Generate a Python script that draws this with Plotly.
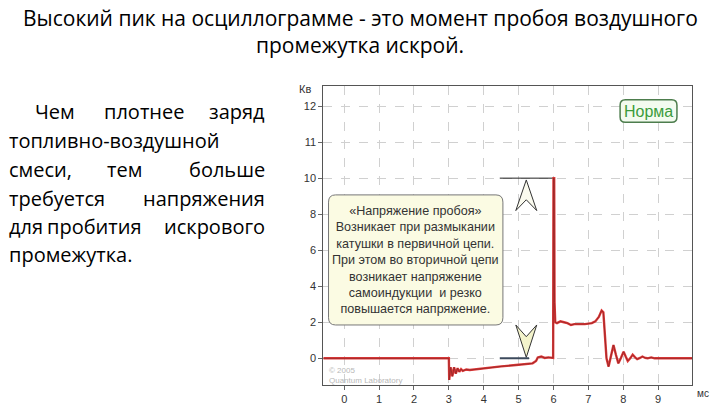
import plotly.graph_objects as go

# ---- data ----
time_ms = [-0.6, 3.0, 3.01, 3.05, 3.1, 3.15, 3.2, 3.25, 3.3, 3.35, 3.4, 3.5, 3.6,
           4.0, 4.5, 5.0, 5.4, 5.5, 5.55, 5.65, 5.75, 5.85, 5.99, 6.0, 6.02, 6.03,
           6.05, 6.1, 6.2, 6.3, 6.4, 6.5, 6.6, 6.7, 6.9, 7.1, 7.2, 7.3, 7.38, 7.43,
           7.47, 7.52, 7.58, 7.65, 7.72, 7.79, 7.86, 7.93, 8.01, 8.07, 8.13, 8.2,
           8.27, 8.34, 8.4, 8.48, 8.55, 8.63, 8.7, 8.8, 8.9, 9.0, 10.0]
voltage_kv = [0.0, 0.0, -1.2, -0.5, -1.0, -0.5, -0.85, -0.55, -0.75, -0.6, -0.7, -0.62, -0.65,
              -0.55, -0.45, -0.36, -0.28, -0.15, 0.05, 0.1, 0.02, 0.05, 0.02, 10.0, 10.0, 3.1,
              2.0, 1.95, 2.05, 2.0, 1.95, 1.85, 1.9, 1.9, 1.9, 1.95, 2.05, 2.3, 2.65, 2.55,
              1.5, 0.0, -0.46, 0.1, 0.74, 0.2, -0.28, 0.0, 0.37, 0.1, -0.15, 0.0,
              0.2, 0.05, -0.05, 0.02, 0.1, 0.02, 0.0, 0.05, 0.0, 0.0, 0.0]

x_ticks = [0, 1, 2, 3, 4, 5, 6, 7, 8, 9]
y_tick_pos = [0, 2, 4, 6, 8, 10, 12, 14]
y_tick_labels = ["0", "2", "4", "6", "8", "10", "11", "12"]

# guide marks for the breakdown voltage
peak_line_x = [4.46, 6.0]
peak_line_y = [10.0, 10.0]
base_line_x = [4.46, 5.3]
base_line_y = [0.0, 0.0]
arrow_up_x = [5.22, 4.92, 5.22, 5.52, 5.22]
arrow_up_y = [9.9, 8.2, 8.8, 8.2, 9.9]
arrow_dn_x = [5.22, 4.92, 5.22, 5.52, 5.22]
arrow_dn_y = [0.05, 1.85, 1.2, 1.85, 0.05]

X_RANGE = [-0.6, 9.98]
Y_RANGE = [-1.47, 15.1]

fig = go.Figure()

# guide lines and arrows
fig.add_trace(go.Scatter(x=arrow_up_x, y=arrow_up_y, mode="lines", fill="toself",
                         fillcolor="rgba(248,248,228,0.6)", line=dict(color="#333", width=1),
                         hoverinfo="skip", showlegend=False))
fig.add_trace(go.Scatter(x=arrow_dn_x, y=arrow_dn_y, mode="lines", fill="toself",
                         fillcolor="rgba(240,240,190,0.8)", line=dict(color="#333", width=1),
                         hoverinfo="skip", showlegend=False))
fig.add_trace(go.Scatter(x=peak_line_x, y=peak_line_y, mode="lines",
                         line=dict(color="#222", width=1), hoverinfo="skip", showlegend=False))
fig.add_trace(go.Scatter(x=base_line_x, y=base_line_y, mode="lines",
                         line=dict(color="#3c4a5c", width=2), hoverinfo="skip", showlegend=False))

# waveform: red halo + dark core
fig.add_trace(go.Scatter(x=time_ms, y=voltage_kv, mode="lines",
                         line=dict(color="#e23a3a", width=2.4),
                         hoverinfo="skip", showlegend=False))
fig.add_trace(go.Scatter(x=time_ms, y=voltage_kv, mode="lines",
                         line=dict(color="#962828", width=0.9),
                         showlegend=False))


def rounded_rect(x0, x1, y0, y1, rx, ry):
    return (f"M {x0+rx},{y0} L {x1-rx},{y0} Q {x1},{y0} {x1},{y0+ry} "
            f"L {x1},{y1-ry} Q {x1},{y1} {x1-rx},{y1} L {x0+rx},{y1} "
            f"Q {x0},{y1} {x0},{y1-ry} L {x0},{y0+ry} Q {x0},{y0} {x0+rx},{y0} Z")


shapes = [
    dict(type="path", xref="x", yref="y",
         path=rounded_rect(-0.45, 4.55, 1.85, 9.07, 0.2, 0.4),
         fillcolor="#fbfbe3", line=dict(color="#777", width=1), layer="above"),
    dict(type="path", xref="x", yref="y",
         path=rounded_rect(7.91, 9.54, 13.1, 14.35, 0.15, 0.3),
         fillcolor="#f3fbef", line=dict(color="#4d7d4d", width=1.5), layer="above"),
]

annotations = [
    dict(x=2.05, y=5.45, xref="x", yref="y", showarrow=False, xanchor="center", yanchor="middle",
         text=("«Напряжение пробоя»<br>Возникает при размыкании<br>катушки в первичной цепи.<br>"
               "При этом во вторичной цепи<br>возникает напряжение<br>самоиндукции  и резко<br>"
               "повышается напряжение."),
         font=dict(family="Liberation Sans, Arial", size=12.6, color="#333"), align="center"),
    dict(x=8.725, y=13.72, xref="x", yref="y", showarrow=False, xanchor="center", yanchor="middle",
         text="Норма", font=dict(family="Liberation Sans, Arial", size=16, color="#3c9c3c")),
    dict(x=-0.5, y=-0.3, xref="x", yref="y", showarrow=False, xanchor="left", yanchor="top",
         text="© 2005<br>Quantum Laboratory", align="left",
         font=dict(family="Liberation Sans, Arial", size=8, color="#b8b8b8")),
    dict(x=305 / 720, y=1 - 89 / 405, xref="paper", yref="paper", showarrow=False,
         xanchor="center", yanchor="middle",
         text="Кв", font=dict(family="Liberation Sans, Arial", size=11, color="#333")),
    dict(x=703 / 720, y=1 - 395 / 405, xref="paper", yref="paper", showarrow=False,
         xanchor="center", yanchor="middle",
         text="мс", font=dict(family="Liberation Sans, Arial", size=10, color="#333")),
]

# slide title
TF = dict(family="Open Sans, Noto Sans", size=21, color="#000")
PF = dict(family="Open Sans, Noto Sans", size=20, color="#000")
annotations += [
    dict(x=0.5, y=1 - 18 / 405, xref="paper", yref="paper", showarrow=False,
         xanchor="center", yanchor="middle",
         text="Высокий пик на осциллограмме - это момент пробоя воздушного", font=TF),
    dict(x=0.5, y=1 - 45 / 405, xref="paper", yref="paper", showarrow=False,
         xanchor="center", yanchor="middle",
         text="промежутка искрой.", font=TF),
]

# justified paragraph (word, anchor, x px, y px)
para = [
    ("Чем", "left", 33, 112), ("плотнее", "center", 144, 112), ("заряд", "right", 267, 112),
    ("топливно-воздушной", "left", 7, 141),
    ("смеси,", "left", 7, 170), ("тем", "center", 124, 170), ("больше", "right", 267, 170),
    ("требуется", "left", 7, 199), ("напряжения", "right", 267, 199),
    ("для", "left", 7, 228), ("пробития", "center", 94, 228), ("искрового", "right", 267, 228),
    ("промежутка.", "left", 7, 256),
]
for w, anc, px, py in para:
    annotations.append(dict(x=px / 720, y=1 - py / 405, xref="paper", yref="paper",
                            xanchor=anc, yanchor="middle", showarrow=False, text=w, font=PF))

axis_common = dict(showline=True, linecolor="#555", linewidth=1, mirror=True,
                   ticks="outside", ticklen=4, tickcolor="#666",
                   showgrid=True, gridcolor="#d0d0d0", griddash="dash", gridwidth=1,
                   zeroline=False, tickfont=dict(family="Liberation Sans, Arial", size=11, color="#333"))

fig.update_layout(
    width=720, height=405, margin=dict(l=0, r=0, t=0, b=0),
    paper_bgcolor="white", plot_bgcolor="white",
    xaxis=dict(domain=[323.3 / 720, 692.3 / 720], range=X_RANGE, tickvals=x_ticks, **axis_common),
    yaxis=dict(domain=[18.3 / 405, 318.3 / 405], range=Y_RANGE, tickvals=y_tick_pos,
               ticktext=y_tick_labels, **axis_common),
    shapes=shapes, annotations=annotations,
)

fig.write_html("out.html", config={"displayModeBar": False},
               post_script="document.body.style.margin='0';")
